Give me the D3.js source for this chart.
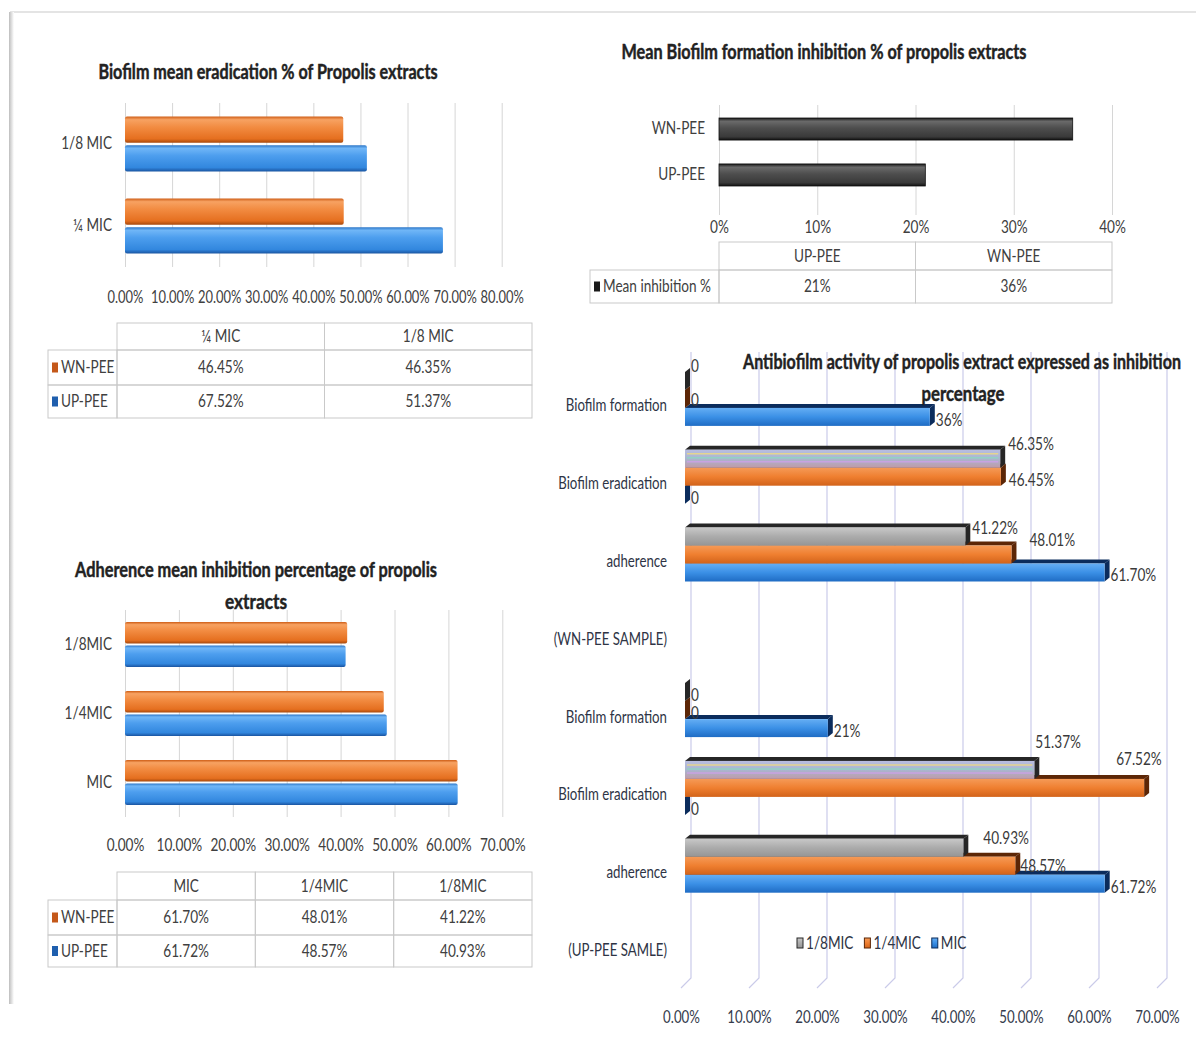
<!DOCTYPE html>
<html>
<head>
<meta charset="utf-8">
<script src="https://cdn.jsdelivr.net/npm/d3@7/dist/d3.min.js"></script>
<style>
  html, body { margin: 0; padding: 0; background: #fff; }
  svg { display: block; font-family: Lato, "Open Sans", sans-serif; }
</style>
</head>
<body>
<svg id="fig" width="1196" height="1041"></svg>
<script>
// ---- data ----
// biofilm eradication (table order)
var eradCats = ["¼ MIC", "1/8 MIC"];
var eradWN = [46.45, 46.35];
var eradUP = [67.52, 51.37];
var eradTicks = [0, 10, 20, 30, 40, 50, 60, 70, 80];

// biofilm formation inhibition
var formCats = ["UP-PEE", "WN-PEE"];
var formMean = [21, 36];
var formTicks = [0, 10, 20, 30, 40];

// adherence inhibition
var adhCats = ["MIC", "1/4MIC", "1/8MIC"];
var adhWN = [61.70, 48.01, 41.22];
var adhUP = [61.72, 48.57, 40.93];
var adhTicks = [0, 10, 20, 30, 40, 50, 60, 70];

// antibiofilm activity (per sample)
var actCats = ["Biofilm formation", "Biofilm eradication", "adherence"];
var actSeries = ["1/8MIC", "1/4MIC", "MIC"];
var actGroups = ["(WN-PEE SAMPLE)", "(UP-PEE SAMLE)"];
var wnMIC8 = [0, 46.35, 41.22];
var wnMIC4 = [0, 46.45, 48.01];
var wnMIC = [36, 0, 61.70];
var upMIC8 = [0, 51.37, 40.93];
var upMIC4 = [0, 67.52, 48.57];
var upMIC = [21, 0, 61.72];
var actTicks = [0, 10, 20, 30, 40, 50, 60, 70];

var FONT = "Lato, 'Open Sans', sans-serif";
var svg = d3.select("#fig");
var defs = svg.append("defs");

function grad(id, stops) {
    var g = defs.append("linearGradient").attr("id", id)
        .attr("x1", 0).attr("y1", 0).attr("x2", 0).attr("y2", 1);
    stops.forEach(function(s) {
        g.append("stop").attr("offset", s[0]).attr("stop-color", s[1]);
    });
}
// rounded "cylinder" bars of the left charts
grad("orCyl", [[0, "#cf5f18"], [0.12, "#f7a262"], [0.4, "#f28c42"], [0.85, "#e56f1f"], [1, "#a6480c"]]);
grad("blCyl", [[0, "#2a74c6"], [0.12, "#70b6f7"], [0.4, "#4d9eee"], [0.85, "#3287de"], [1, "#1a55a2"]]);
grad("dkCyl", [[0, "#1a1a1a"], [0.15, "#6a6a6a"], [0.45, "#4e4e4e"], [0.85, "#3a3a3a"], [1, "#121212"]]);
// flat-ish 3d bars of the right chart
grad("orFace", [[0, "#f59a57"], [0.5, "#ef7f30"], [1, "#d2631a"]]);
grad("blFace", [[0, "#65aef4"], [0.5, "#3b90e6"], [1, "#1f6cc4"]]);
grad("gyFace", [[0, "#c8c8c8"], [0.5, "#ababab"], [1, "#959595"]]);
grad("stFace", [[0, "#b9bde0"], [0.5, "#a9b6d0"], [1, "#c09aa8"]]);
var shadow = defs.append("linearGradient").attr("id", "shadow");
shadow.append("stop").attr("offset", 0).attr("stop-color", "#bdbdbd");
shadow.append("stop").attr("offset", 1).attr("stop-color", "#ffffff");

// text squeezed horizontally, like the narrow font of the original
function label(parent, x, y, s, o) {
    o = o || {};
    var g = parent.append("g")
        .attr("transform", "translate(" + x + "," + y + ") scale(" + (o.sx || 0.8) + ",1)");
    return g.append("text").attr("dy", "0.35em")
        .attr("text-anchor", o.anchor || "middle")
        .attr("font-size", o.size || 17)
        .attr("font-weight", o.bold ? "bold" : null)
        .attr("fill", o.fill || "#404040")
        .text(s);
}

function title(x, y, s, w) {
    svg.append("text").attr("x", x).attr("y", y).attr("dy", "0.35em")
        .attr("text-anchor", "middle")
        .attr("font-size", 20).attr("font-weight", "bold").attr("fill", "#222")
        .attr("stroke", "#222").attr("stroke-width", 0.45)
        .attr("textLength", w).attr("lengthAdjust", "spacingAndGlyphs")
        .text(s);
}

function styleAxisText(g, size, sx, fill) {
    g.attr("font-family", FONT);
    g.selectAll("text").attr("font-size", size).attr("fill", fill)
        .attr("transform", "scale(" + sx + ",1)");
}

function pct2(v) { return d3.format(".2f")(v) + "%"; }

// ---- frame ----
svg.append("line").attr("x1", 10).attr("y1", 12).attr("x2", 1196).attr("y2", 12)
    .attr("stroke", "#e4e4e4").attr("stroke-width", 2);
svg.append("rect").attr("x", 9).attr("y", 12).attr("width", 5).attr("height", 992)
    .attr("fill", "url(#shadow)");

// ---- table helper ----
function table(o) {
    var g = svg.append("g");
    var n = o.head.length;
    var cols = d3.range(n + 1).map(function(i) { return o.x0 + i * (o.x1 - o.x0) / n; });
    var rows = o.rowEdges;
    // header cells
    o.head.forEach(function(h, i) {
        g.append("rect").attr("x", cols[i]).attr("y", rows[0])
            .attr("width", cols[i + 1] - cols[i]).attr("height", rows[1] - rows[0]);
        label(g, (cols[i] + cols[i + 1]) / 2, (rows[0] + rows[1]) / 2, h);
    });
    o.rows.forEach(function(r, ri) {
        var ya = rows[ri + 1], yb = rows[ri + 2], yc = (ya + yb) / 2;
        g.append("rect").attr("x", o.left).attr("y", ya)
            .attr("width", o.x0 - o.left).attr("height", yb - ya);
        g.append("rect").attr("class", "key").attr("x", o.left + 4).attr("y", yc - 5)
            .attr("width", 6).attr("height", 10).attr("fill", r.key);
        label(g, o.left + 13, yc, r.name, { anchor: "start" });
        r.vals.forEach(function(v, i) {
            g.append("rect").attr("x", cols[i]).attr("y", ya)
                .attr("width", cols[i + 1] - cols[i]).attr("height", yb - ya);
            label(g, (cols[i] + cols[i + 1]) / 2, yc, v);
        });
    });
    g.selectAll("rect:not(.key)").attr("fill", "none").attr("stroke", "#c9c9c9").attr("stroke-width", 1);
}

// ---- left charts: grouped cylinder bars ----
function cylChart(o) {
    var x = d3.scaleLinear().domain([0, d3.max(o.ticks)]).range(o.xr);
    var y = d3.scaleBand().domain(o.cats.slice().reverse()).range(o.yr)
        .paddingInner(o.pad).paddingOuter(o.pad / 2);
    var ys = d3.scaleBand().domain(o.series.map(function(s) { return s.name; }))
        .range([0, y.bandwidth()]).paddingInner(0.08);

    var ax = svg.append("g").attr("transform", "translate(0," + o.yr[1] + ")")
        .call(d3.axisBottom(x).tickValues(o.ticks).tickSize(-(o.yr[1] - o.yr[0])).tickFormat(pct2));
    ax.select(".domain").remove();
    ax.selectAll("line").attr("stroke", "#d6d6d6");
    ax.selectAll("text").attr("y", o.tickDy).attr("dy", "0.35em");
    styleAxisText(ax, 17, o.tickSx, "#404040");

    var ay = svg.append("g").attr("transform", "translate(" + o.labelX + ",0)")
        .call(d3.axisLeft(y).tickSize(0).tickPadding(0));
    ay.select(".domain").remove();
    styleAxisText(ay, 17, 0.8, "#404040");

    var recs = [];
    o.cats.forEach(function(c, ci) {
        o.series.forEach(function(s) { recs.push({ c: c, s: s.name, v: s.vals[ci], fill: s.fill }); });
    });
    svg.append("g").selectAll("rect").data(recs).join("rect")
        .attr("x", x(0))
        .attr("y", function(d) { return y(d.c) + ys(d.s); })
        .attr("width", function(d) { return x(d.v) - x(0); })
        .attr("height", ys.bandwidth())
        .attr("rx", 2)
        .attr("fill", function(d) { return d.fill; });
}

// chart A: biofilm eradication
cylChart({
    cats: eradCats,
    series: [{ name: "WN-PEE", vals: eradWN, fill: "url(#orCyl)" },
             { name: "UP-PEE", vals: eradUP, fill: "url(#blCyl)" }],
    ticks: eradTicks, xr: [125, 501.7], yr: [103, 267], pad: 0.33,
    tickDy: 30, tickSx: 0.76, labelX: 112
});
table({
    left: 48, x0: 117, x1: 532, rowEdges: [323, 350, 385, 418],
    head: eradCats,
    rows: [{ name: "WN-PEE", key: "#c4581a", vals: eradWN.map(pct2) },
           { name: "UP-PEE", key: "#1f5fae", vals: eradUP.map(pct2) }]
});

// chart C: adherence
cylChart({
    cats: adhCats,
    series: [{ name: "WN-PEE", vals: adhWN, fill: "url(#orCyl)" },
             { name: "UP-PEE", vals: adhUP, fill: "url(#blCyl)" }],
    ticks: adhTicks, xr: [125, 502.3], yr: [610, 817], pad: 0.35,
    tickDy: 28, tickSx: 0.8, labelX: 112
});
table({
    left: 48, x0: 117, x1: 532, rowEdges: [872, 900, 935, 967],
    head: adhCats,
    rows: [{ name: "WN-PEE", key: "#c4581a", vals: adhWN.map(pct2) },
           { name: "UP-PEE", key: "#1f5fae", vals: adhUP.map(pct2) }]
});

// ---- chart B: biofilm formation ----
(function() {
    var x = d3.scaleLinear().domain([0, 40]).range([719, 1112]);
    var y = d3.scaleBand().domain(formCats.slice().reverse()).range([105, 199])
        .paddingInner(0.52).paddingOuter(0.283);
    var ax = svg.append("g").attr("transform", "translate(0,215)")
        .call(d3.axisBottom(x).tickValues(formTicks).tickSize(-110).tickFormat(function(v) { return v + "%"; }));
    ax.select(".domain").remove();
    ax.selectAll("line").attr("stroke", "#d6d6d6");
    ax.selectAll("text").attr("y", 12).attr("dy", "0.35em");
    styleAxisText(ax, 17, 0.8, "#404040");

    var ay = svg.append("g").attr("transform", "translate(705,0)")
        .call(d3.axisLeft(y).tickSize(0).tickPadding(0));
    ay.select(".domain").remove();
    styleAxisText(ay, 17, 0.8, "#404040");

    svg.append("g").selectAll("rect").data(formCats).join("rect")
        .attr("x", x(0))
        .attr("y", function(d) { return y(d); })
        .attr("width", function(d, i) { return x(formMean[i]) - x(0); })
        .attr("height", y.bandwidth())
        .attr("fill", "url(#dkCyl)").attr("stroke", "#111").attr("stroke-width", 0.8);

    table({
        left: 590, x0: x(0), x1: x(40), rowEdges: [242, 270, 303],
        head: formCats,
        rows: [{ name: "Mean inhibition %", key: "#1a1a1a", vals: formMean.map(function(v) { return v + "%"; }) }]
    });
})();

// ---- chart D: antibiofilm activity, 3d clustered bars ----
(function() {
    var x = d3.scaleLinear().domain([0, 70]).range([685, 1161]);
    var rowNames = actCats.concat([actGroups[0]], actCats, [actGroups[1]]);
    var y = d3.scaleBand().domain(d3.range(rowNames.length)).range([360, 982.4])
        .paddingInner(0.306).paddingOuter(0.153);
    var ys = d3.scaleBand().domain(actSeries).range([0, y.bandwidth()]);
    var dep = 5, rise = 4;

    // back wall grid with a slanted floor edge
    svg.append("g").selectAll("path").data(actTicks).join("path")
        .attr("d", function(v) {
            return "M" + (x(v) + 6) + ",352V978L" + (x(v) - 4) + ",988";
        })
        .attr("fill", "none").attr("stroke", "#cacbe9").attr("stroke-width", 1.2);

    var ax = svg.append("g").attr("transform", "translate(-4,1017)")
        .call(d3.axisBottom(x).tickValues(actTicks).tickSize(0).tickFormat(pct2));
    ax.select(".domain").remove();
    ax.selectAll("text").attr("y", 0).attr("dy", "0.35em");
    styleAxisText(ax, 17, 0.78, "#343b4c");

    var ay = svg.append("g").attr("transform", "translate(667,7)")
        .call(d3.axisLeft(y).tickSize(0).tickPadding(0).tickFormat(function(i) { return rowNames[i]; }));
    ay.select(".domain").remove();
    styleAxisText(ay, 17, 0.78, "#2e3445");

    var groups = [[wnMIC8, wnMIC4, wnMIC], [upMIC8, upMIC4, upMIC]];
    var look = {
        "1/8MIC": { face: "url(#gyFace)", dark: "#262626" },
        "1/4MIC": { face: "url(#orFace)", dark: "#5c2606" },
        "MIC": { face: "url(#blFace)", dark: "#0b2c5c" }
    };
    var recs = [];
    groups.forEach(function(vals, gi) {
        actCats.forEach(function(c, ci) {
            actSeries.forEach(function(s, si) {
                recs.push({ g: gi, c: ci, s: s, si: si, row: gi * 4 + ci, v: vals[si][ci] });
            });
        });
    });
    // lower bars first so the upper neighbour hides their top face
    var order = recs.slice().sort(function(a, b) { return a.row - b.row || b.si - a.si; });

    var bars = svg.append("g").selectAll("g").data(order).join("g");
    bars.each(function(d) {
        var g = d3.select(this);
        var x0 = x(0), x1 = x(d.v), y0 = y(d.row) + ys(d.s), h = ys.bandwidth();
        var striped = d.s === "1/8MIC" && d.c === 1;
        g.append("path")
            .attr("d", "M" + x0 + "," + y0 + "L" + (x0 + dep) + "," + (y0 - rise) +
                "L" + (x1 + dep) + "," + (y0 - rise) + "L" + x1 + "," + y0 + "Z")
            .attr("fill", look[d.s].dark);
        g.append("path")
            .attr("d", "M" + x1 + "," + y0 + "L" + (x1 + dep) + "," + (y0 - rise) +
                "L" + (x1 + dep) + "," + (y0 + h - rise) + "L" + x1 + "," + (y0 + h) + "Z")
            .attr("fill", look[d.s].dark);
        g.append("rect").attr("x", x0).attr("y", y0)
            .attr("width", Math.max(0, x1 - x0)).attr("height", h)
            .attr("fill", striped ? "url(#stFace)" : look[d.s].face);
        if (striped && d.v > 0) {
            ["#e4d590", "#93d2c2", "#c8a2e2"].forEach(function(col, k) {
                g.append("line").attr("x1", x0 + 2).attr("x2", x1 - 2)
                    .attr("y1", y0 + 4 + k * 4).attr("y2", y0 + 4 + k * 4)
                    .attr("stroke", col).attr("stroke-width", 1.5);
            });
        }
    });

    // value labels, nudged where the original moved them to avoid overlaps
    var nudge = {
        "0-0-0": [6, -15], "0-0-1": [6, 1],
        "0-1-0": [8, -15], "0-1-1": [8, 3],
        "0-2-0": [7, -8], "0-2-1": [18, -14],
        "1-1-0": [1, -28], "1-1-1": [-28, -29],
        "1-2-0": [20, -10], "1-2-1": [5, 0]
    };
    var lab = svg.append("g");
    recs.forEach(function(d) {
        var n = nudge[d.g + "-" + d.c + "-" + d.si] || [6, 3];
        var s = d.v === 0 ? "0" : (Number.isInteger(d.v) ? d.v + "%" : pct2(d.v));
        var yc = y(d.row) + ys(d.s) + ys.bandwidth() / 2;
        label(lab, x(d.v) + n[0], yc + n[1], s, { anchor: "start", fill: "#3a3a3a" });
    });

    // legend
    var lg = svg.append("g");
    var lx = 797;
    actSeries.forEach(function(s) {
        lg.append("rect").attr("x", lx).attr("y", 938).attr("width", 6).attr("height", 10)
            .attr("fill", look[s].face).attr("stroke", look[s].dark).attr("stroke-width", 1);
        var t = label(lg, lx + 9, 943, s, { anchor: "start", fill: "#2e3445" });
        lx += 9 + t.node().getComputedTextLength() * 0.8 + 11;
    });
})();

// ---- titles ----
title(268, 72, "Biofilm mean eradication % of Propolis extracts", 339);
title(824, 52, "Mean Biofilm formation inhibition % of propolis extracts", 405);
title(256, 570, "Adherence mean inhibition percentage of propolis", 362);
title(256, 602, "extracts", 62);
title(962, 362, "Antibiofilm activity of propolis extract expressed as inhibition", 438);
title(963, 394, "percentage", 83);
</script>
</body>
</html>
